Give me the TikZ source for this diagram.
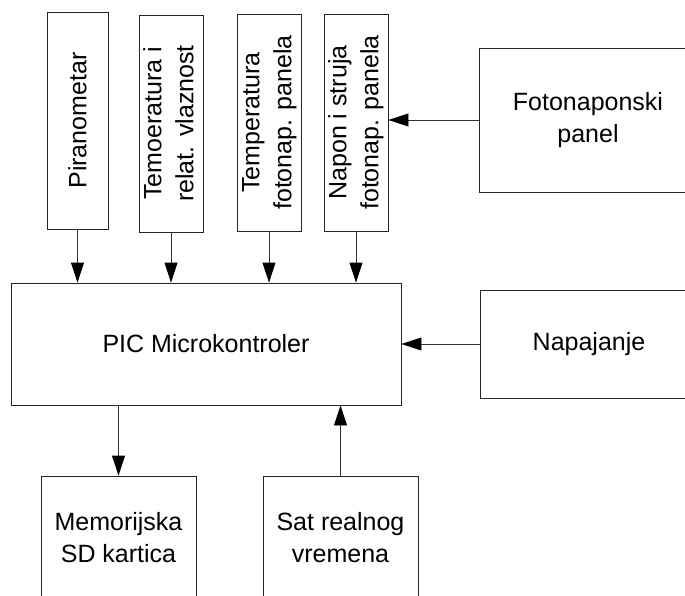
\documentclass[tikz,border=0pt]{standalone}
\usepackage{fontspec}
\setmainfont{Liberation Sans}
\usetikzlibrary{arrows.meta}

\begin{document}
\begin{tikzpicture}[
    x=1pt, y=-1pt,
    blok/.style={draw=black!85, line width=0.9pt, inner sep=0pt, align=center,
        font=\fontsize{25}{32}\selectfont},
    senzor/.style={blok, minimum width=61pt, minimum height=217pt},
    veza/.style={draw=black!80, line width=0.9pt,
        -{Triangle[length=20pt, width=13pt, color=black]}}
]
    \useasboundingbox (0,0) rectangle (685,596);
    \clip (0,0) rectangle (685,596);

    % senzori
    \node[senzor] at (77.5,120.5) (pir) {\rotatebox{90}{Piranometar}};
    \node[senzor] at (171,123.5) (vlaz) {\rotatebox{90}{\begin{tabular}{@{}c@{}}
        Temoeratura i \\ relat. vlaznost \end{tabular}}};
    \node[senzor] at (269,122.5) (temp) {\rotatebox{90}{\begin{tabular}{@{}c@{}}
        Temperatura \\ fotonap. panela \end{tabular}}};
    \node[senzor] at (356,122.5) (napon) {\rotatebox{90}{\begin{tabular}{@{}c@{}}
        Napon i struja \\ fotonap. panela \end{tabular}}};

    \node[blok, minimum width=218pt, minimum height=144pt] at (588,120) (panel) {Fotonaponski\\panel};
    \node[blok, minimum width=390pt, minimum height=122pt] at (206,344) (pic) {PIC Microkontroler};
    \node[blok, minimum width=218pt, minimum height=108pt] at (589,344) (napajanje) {Napajanje};

    \node[blok, minimum width=155pt, minimum height=124pt] at (118.5,538) (sd) {Memorijska\\SD kartica};
    \node[blok, minimum width=155pt, minimum height=124pt] at (340.5,538) (sat) {Sat realnog\\vremena};

    \draw[veza] (pir.south) -- (pir.south |- pic.north);
    \draw[veza] (vlaz.south) -- (vlaz.south |- pic.north);
    \draw[veza] (temp.south) -- (temp.south |- pic.north);
    \draw[veza] (napon.south) -- (napon.south |- pic.north);
    \draw[veza] (panel.west) -- (panel.west -| napon.east);
    \draw[veza] (napajanje.west) -- (napajanje.west -| pic.east);
    \draw[veza] (pic.south -| sd.north) -- (sd.north);
    \draw[veza] (sat.north) -- (sat.north |- pic.south);
\end{tikzpicture}
\end{document}
